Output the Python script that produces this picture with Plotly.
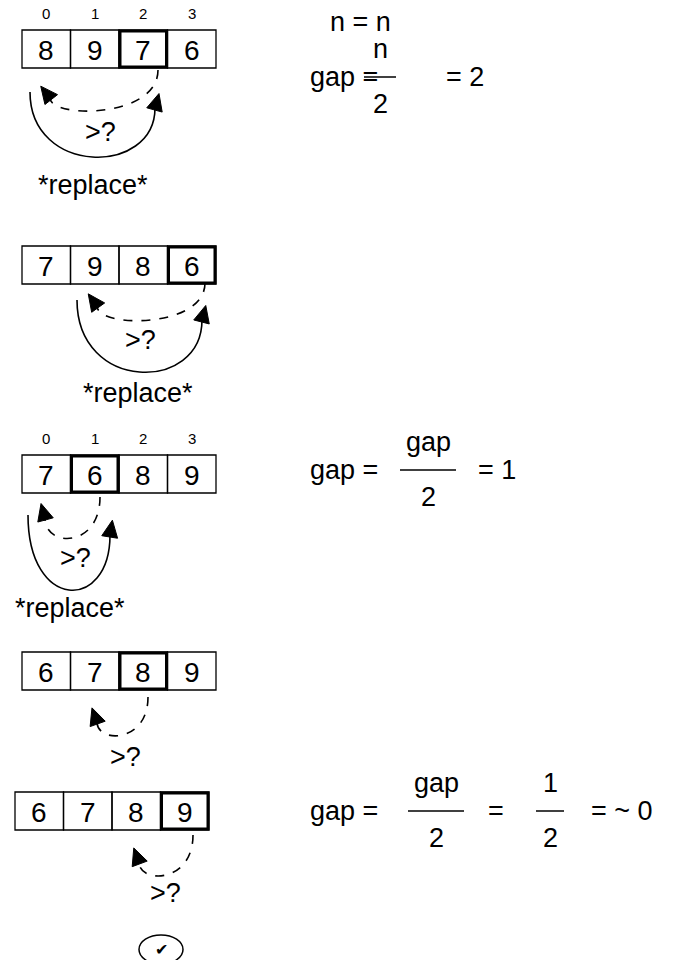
import math
import plotly.graph_objects as go

W, H = 684, 968
OFF = 8  # default page body margin

# array states at each step
rows = [[8, 9, 7, 6], [7, 9, 8, 6], [7, 6, 8, 9], [6, 7, 8, 9], [6, 7, 8, 9]]
highlight = [2, 3, 1, 2, 3]
row_left = [22, 22, 22, 22, 15]
row_top = [30, 246, 455, 652, 792]
show_index = [True, False, True, False, False]
index_labels = ["0", "1", "2", "3"]
cell_w, cell_h = 48.5, 38

fig = go.Figure()
shapes = []
ann = []
FONT = "Liberation Sans"


def text(x, y, s, size=27):
    ann.append(dict(x=x, y=y, text=s, showarrow=False, xref="x", yref="y",
                    font=dict(family=FONT, size=size, color="black")))


for r, vals in enumerate(rows):
    x0, y0 = row_left[r], row_top[r]
    for i, v in enumerate(vals):
        shapes.append(dict(type="rect", x0=x0 + i * cell_w, x1=x0 + (i + 1) * cell_w,
                           y0=y0, y1=y0 + cell_h, line=dict(color="black", width=1.3)))
        text(x0 + (i + 0.5) * cell_w, y0 + cell_h / 2 + 1, str(v), 28)
        if show_index[r]:
            text(x0 + (i + 0.5) * cell_w, y0 - 17, index_labels[i], 15)
    h = highlight[r]
    shapes.append(dict(type="rect", x0=x0 + h * cell_w + 1, x1=x0 + (h + 1) * cell_w - 1,
                       y0=y0 + 1, y1=y0 + cell_h - 1, line=dict(color="black", width=3)))


def curve(p0, p2, bottom, dash):
    cy = (bottom - 0.125 * (p0[1] + p2[1])) / 0.75
    c1 = (p0[0], cy)
    c2 = (p2[0], cy)
    shapes.append(dict(type="path",
                       path=f"M {p0[0]},{p0[1]} C {c1[0]},{c1[1]} {c2[0]},{c2[1]} {p2[0]},{p2[1]}",
                       line=dict(color="black", width=1.6, dash="dash" if dash else "solid")))
    dx, dy = p2[0] - c2[0] + (p2[0] - p0[0]) * 0.15, p2[1] - c2[1]
    L = math.hypot(dx, dy)
    ux, uy = dx / L, dy / L
    tip = (p2[0] + ux * 15, p2[1] + uy * 15)
    bx, by = p2[0] - ux * 2, p2[1] - uy * 2
    px_, py_ = -uy * 8, ux * 8
    shapes.append(dict(type="path",
                       path=f"M {tip[0]},{tip[1]} L {bx+px_},{by+py_} L {bx-px_},{by-py_} Z",
                       fillcolor="black", line=dict(color="black", width=1)))


# row 1
curve((158, 70), (50, 98), 110, True)
curve((30, 92), (155, 108), 157, False)
text(100, 132, "&gt;?")
text(93, 185, "*replace*")
# row 2
curve((205, 283), (97, 306), 320, True)
curve((77, 300), (202, 320), 372, False)
text(140, 340, "&gt;?")
text(138, 393, "*replace*")
# row 3
curve((100, 497), (45, 518), 538, True)
curve((28, 515), (110, 535), 590, False)
text(75, 558, "&gt;?")
text(70, 608, "*replace*")
# row 4
curve((148, 697), (97, 722), 735, True)
text(125, 757, "&gt;?")
# row 5
curve((193, 835), (139, 862), 875, True)
text(165, 893, "&gt;?")
shapes.append(dict(type="circle", x0=139, x1=183, y0=935, y1=964, line=dict(color="black", width=1.5)))
text(161, 949, "✔", 16)

# right side formulas
text(360, 22, "n = n")


def frac(x, y, num, den, half):
    text(x, y - 27, num)
    text(x, y + 28, den)
    shapes.append(dict(type="line", x0=x - half, x1=x + half, y0=y + 1, y1=y + 1,
                       line=dict(color="black", width=1.5)))


text(344, 77, "gap =")
frac(380, 76, "n", "2", 16)
text(465, 77, "= 2")

text(344, 470, "gap =")
frac(428, 469, "gap", "2", 28)
text(497, 470, "= 1")

text(344, 811, "gap =")
frac(436, 810, "gap", "2", 28)
text(496, 811, "=")
frac(550, 810, "1", "2", 14)
text(622, 811, "= ~ 0")

fig.update_layout(width=W - 2 * OFF, height=H - 2 * OFF, margin=dict(l=0, r=0, t=0, b=0),
                  plot_bgcolor="white", paper_bgcolor="white",
                  shapes=shapes, annotations=ann, showlegend=False,
                  xaxis=dict(range=[OFF, W - OFF], visible=False, fixedrange=True),
                  yaxis=dict(range=[H - OFF, OFF], visible=False, fixedrange=True))
fig.write_html("out.html")
